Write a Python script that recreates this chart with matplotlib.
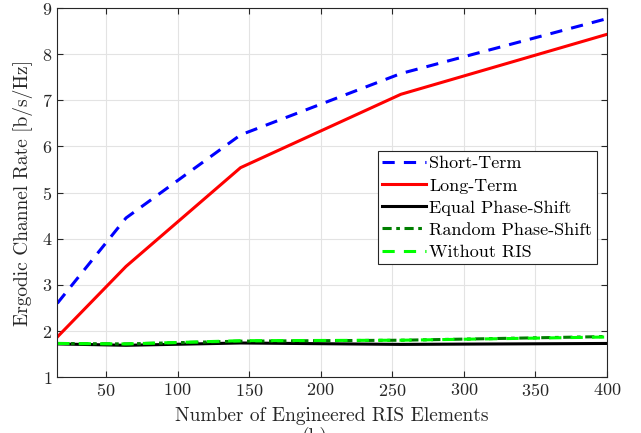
import matplotlib.pyplot as plt

plt.rcParams['font.family'] = 'cmr10'
plt.rcParams['mathtext.fontset'] = 'cm'
plt.rcParams['axes.formatter.use_mathtext'] = True

# number of RIS elements
n_elements = [16, 64, 144, 256, 400]

short_term = [2.60, 4.45, 6.25, 7.58, 8.77]
long_term = [1.87, 3.40, 5.54, 7.13, 8.43]
equal_phase = [1.72, 1.69, 1.74, 1.71, 1.73]
random_phase = [1.73, 1.72, 1.78, 1.80, 1.88]
without_ris = [1.73, 1.72, 1.79, 1.80, 1.87]

x_ticks = [50, 100, 150, 200, 250, 300, 350, 400]
y_ticks = [1, 2, 3, 4, 5, 6, 7, 8, 9]

fig = plt.figure(figsize=(6.41, 4.33), dpi=100)
ax = fig.add_axes([0.0894, 0.129, 0.8576, 0.8525])

ax.plot(n_elements, short_term, '--', color='#0000FF', lw=2.2, dashes=(4, 3), label='Short-Term')
ax.plot(n_elements, long_term, '-', color='#FF0000', lw=2.2, label='Long-Term')
ax.plot(n_elements, equal_phase, '-', color='black', lw=2.2, label='Equal Phase-Shift')
ax.plot(n_elements, random_phase, '-.', color='#007F00', lw=2.2, dashes=(3, 1.5, 1.2, 1.5), label='Random Phase-Shift')
ax.plot(n_elements, without_ris, '--', color='#00FF00', lw=2.2, dashes=(4, 3), label='Without RIS')

ax.set_xlim(16, 400)
ax.set_ylim(1, 9)
ax.set_xticks(x_ticks)
ax.set_yticks(y_ticks)
ax.tick_params(direction='in', top=True, right=True, labelsize=13, length=4,
               color='#262626', labelcolor='#262626')
ax.grid(True, color='#e3e3e3', lw=0.8)
ax.set_axisbelow(True)
for s in ax.spines.values():
    s.set_color('#262626')
    s.set_linewidth(0.8)

ax.set_xlabel('Number of Engineered RIS Elements', fontsize=14, labelpad=6, color='#262626')
ax.set_ylabel('Ergodic Channel Rate [b/s/Hz]', fontsize=14, labelpad=6, color='#262626')

leg = ax.legend(loc='upper left', bbox_to_anchor=(0.583, 0.612), fontsize=13,
                handlelength=2.4, handletextpad=0.2, labelspacing=0.36,
                borderpad=0.25, fancybox=False, framealpha=1, borderaxespad=0)
leg.get_frame().set_edgecolor('#262626')
leg.get_frame().set_linewidth(0.8)

fig.text(0.49, 0.014, '(b)', fontsize=14, ha='center', va='top', color='#262626')

fig.savefig('out.png', dpi=100)
